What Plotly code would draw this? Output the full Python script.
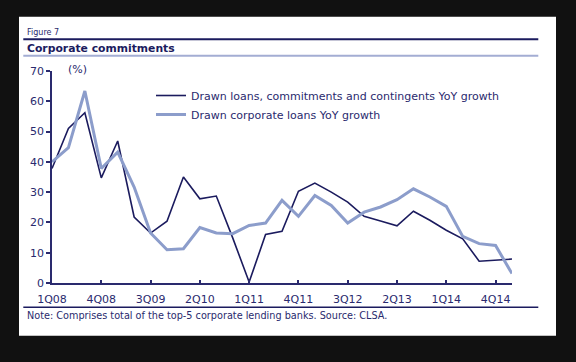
import plotly.graph_objects as go

quarters = ["1Q08","2Q08","3Q08","4Q08","1Q09","2Q09","3Q09","4Q09",
            "1Q10","2Q10","3Q10","4Q10","1Q11","2Q11","3Q11","4Q11",
            "1Q12","2Q12","3Q12","4Q12","1Q13","2Q13","3Q13","4Q13",
            "1Q14","2Q14","3Q14","4Q14","1Q15"]
drawn_commit = [37.8, 51.0, 56.2, 34.7, 46.9, 21.8, 16.5, 20.4,
                35.0, 27.8, 28.7, 14.9, 0.3, 16.0, 17.1, 30.3,
                33.0, 30.0, 26.7, 22.0, 20.5, 18.9, 23.7, 20.7,
                17.4, 14.6, 7.2, 7.5, 7.9]
drawn_corp = [40.0, 44.7, 63.4, 37.8, 43.2, 31.7, 16.5, 11.0,
              11.3, 18.3, 16.5, 16.3, 19.0, 19.8, 27.3, 22.0,
              28.9, 25.6, 19.8, 23.4, 25.1, 27.5, 31.1, 28.4,
              25.3, 15.4, 13.0, 12.4, 3.1]
tick_labels = ["1Q08","4Q08","3Q09","2Q10","1Q11","4Q11","3Q12","2Q13","1Q14","4Q14"]
y_ticks = [0, 10, 20, 30, 40, 50, 60, 70]

DARK = "#1b1b5e"
LIGHT = "#8c9dcb"
NAVY = "#2a2a6e"
FONT = "DejaVu Sans"

W, H = 576, 362
L, R, T, B = 52, 64, 71, 79
PW, PH = W - L - R, H - T - B

def px(x):
    return (x - L) / PW

def py(y):
    return (H - B - y) / PH

fig = go.Figure()
fig.add_trace(go.Scatter(x=quarters, y=drawn_commit, mode="lines",
                         name="Drawn loans, commitments and contingents YoY growth",
                         line=dict(color=DARK, width=1.6)))
fig.add_trace(go.Scatter(x=quarters, y=drawn_corp, mode="lines",
                         name="Drawn corporate loans YoY growth",
                         line=dict(color=LIGHT, width=3)))

shapes = [
    dict(type="rect", xref="paper", yref="paper", layer="below",
         x0=px(19), x1=px(556), y0=py(335.7), y1=py(16.7),
         fillcolor="white", line=dict(width=0)),
    dict(type="line", xref="paper", yref="paper",
         x0=px(23.3), x1=px(538.3), y0=py(39.3), y1=py(39.3),
         line=dict(color=DARK, width=2)),
    dict(type="line", xref="paper", yref="paper",
         x0=px(23.3), x1=px(538.3), y0=py(55.7), y1=py(55.7),
         line=dict(color="#a3add3", width=2)),
    dict(type="line", xref="paper", yref="paper",
         x0=px(23.3), x1=px(538.3), y0=py(307.3), y1=py(307.3),
         line=dict(color=DARK, width=1.6)),
]

annotations = [
    dict(text="Figure 7", x=px(25), y=py(32.7), xref="paper", yref="paper",
         xanchor="left", yanchor="middle", showarrow=False,
         font=dict(family=FONT, size=8, color=NAVY)),
    dict(text="<b>Corporate commitments</b>", x=px(25), y=py(48.7), xref="paper", yref="paper",
         xanchor="left", yanchor="middle", showarrow=False,
         font=dict(family=FONT, size=10.8, color="#1b1b5e")),
    dict(text="(%)", x=px(66), y=py(70), xref="paper", yref="paper",
         xanchor="left", yanchor="middle", showarrow=False,
         font=dict(family=FONT, size=11, color=NAVY)),
    dict(text="Note: Comprises total of the top-5 corporate lending banks. Source: CLSA.",
         x=px(25), y=py(315.7), xref="paper", yref="paper",
         xanchor="left", yanchor="middle", showarrow=False,
         font=dict(family=FONT, size=9.7, color=NAVY)),
]

fig.update_layout(
    width=W, height=H,
    margin=dict(l=L, r=R, t=T, b=B, autoexpand=False),
    paper_bgcolor="#111111", plot_bgcolor="white",
    font=dict(family=FONT, size=11, color=NAVY),
    shapes=shapes, annotations=annotations,
    showlegend=True,
    legend=dict(x=px(151), y=py(81), xanchor="left", yanchor="top",
                bgcolor="rgba(0,0,0,0)", font=dict(family=FONT, size=11, color=NAVY),
                tracegroupgap=0),
    xaxis=dict(type="category", categoryorder="array", categoryarray=quarters,
               range=[0, 28], tickmode="array", tickvals=tick_labels, ticktext=tick_labels,
               ticks="inside", ticklen=3, tickcolor=NAVY, tickwidth=1.5,
               ticklabelstandoff=5,
               showline=True, linecolor=NAVY, linewidth=1.5, showgrid=False, zeroline=False,
               tickfont=dict(family=FONT, size=11, color=NAVY)),
    yaxis=dict(range=[0, 70], tickmode="array", tickvals=y_ticks,
               ticks="outside", ticklen=4, tickcolor=NAVY, tickwidth=1.5,
               showline=True, linecolor=NAVY, linewidth=1.5, showgrid=False, zeroline=False,
               tickfont=dict(family=FONT, size=11, color=NAVY)),
)

fig.write_html("out.html",
               config={"displayModeBar": False},
               post_script="document.body.style.margin='0';document.body.style.background='#111111';document.body.style.overflow='hidden';")
